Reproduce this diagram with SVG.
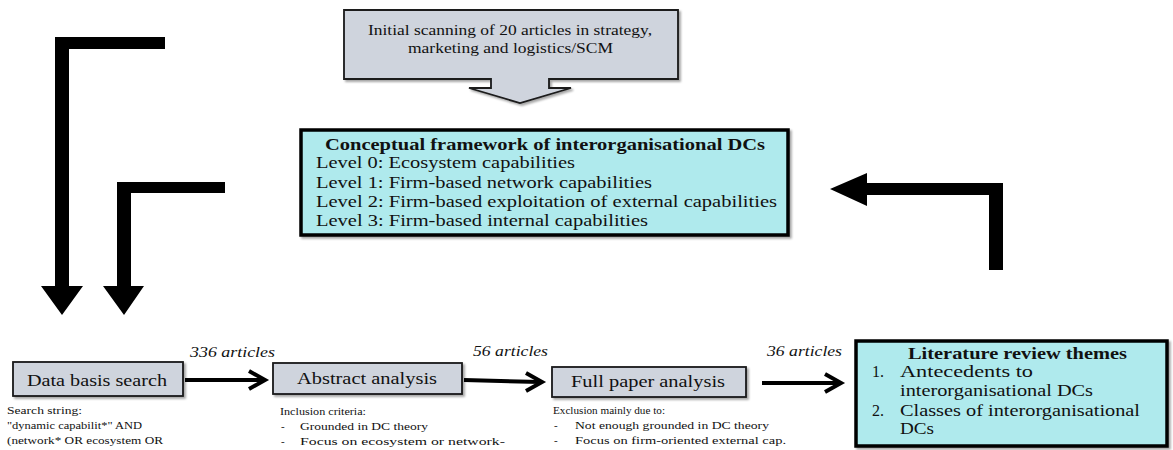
<svg xmlns="http://www.w3.org/2000/svg" width="1173" height="450" viewBox="0 0 1173 450" font-family="'Liberation Serif', 'Times New Roman', Tinos, 'DejaVu Serif', serif">
  <style>
    text { font-family: "Liberation Serif", "Times New Roman", Tinos, "DejaVu Serif", serif; fill: #111; }
    .step { fill: #cfd4dd; stroke: #1a1a1a; stroke-width: 1.8; }
    .theme { fill: #afeaed; stroke: #000; stroke-width: 3.5; }
    .lbl { font-size: 16px; }
    .cnt { font-size: 14.5px; font-style: italic; }
    .note { font-size: 11px; }
    .hd { font-weight: bold; }
    .big { font-size: 16px; }
    .bigarrow { fill: #000; }
    .flow { fill: none; stroke: #000; stroke-width: 4; }
    .head { fill: none; stroke: #000; stroke-width: 4; stroke-linejoin: miter; stroke-linecap: butt; }
  </style>
  <defs>
    <filter id="shadow" x="-5%" y="-5%" width="112%" height="120%">
      <feDropShadow dx="2" dy="2" stdDeviation="1" flood-color="#000" flood-opacity="0.35"/>
    </filter>
  </defs>

  <!-- Initial scanning callout with down arrow -->
  <g id="scanning">
    <path class="step" filter="url(#shadow)" d="M344,10 H678 V79 H549 V88 H571 L520,103 L469,88 H491 V79 H344 Z"/>
    <text x="368" y="35" font-size="14" textLength="284" lengthAdjust="spacingAndGlyphs">Initial scanning of 20 articles in strategy,</text>
    <text x="408" y="53" font-size="14" textLength="205" lengthAdjust="spacingAndGlyphs">marketing and logistics/SCM</text>
  </g>

  <!-- Conceptual framework -->
  <g id="framework">
    <rect class="theme" filter="url(#shadow)" x="301" y="130" width="487" height="105"/>
    <text class="hd" x="325" y="150" font-size="16.5" textLength="440" lengthAdjust="spacingAndGlyphs">Conceptual framework of interorganisational DCs</text>
    <text class="big" x="316" y="168" textLength="259" lengthAdjust="spacingAndGlyphs">Level 0: Ecosystem capabilities</text>
    <text class="big" x="316" y="188" textLength="336" lengthAdjust="spacingAndGlyphs">Level 1: Firm-based network capabilities</text>
    <text class="big" x="316" y="207" textLength="461" lengthAdjust="spacingAndGlyphs">Level 2: Firm-based exploitation of external capabilities</text>
    <text class="big" x="316" y="226" textLength="332" lengthAdjust="spacingAndGlyphs">Level 3: Firm-based internal capabilities</text>
  </g>

  <!-- Data basis search -->
  <g id="data-search">
    <rect class="step" filter="url(#shadow)" x="13" y="362" width="170" height="34"/>
    <text class="lbl" x="27" y="386" textLength="140" lengthAdjust="spacingAndGlyphs">Data basis search</text>
    <text class="note" x="7" y="414" textLength="75" lengthAdjust="spacingAndGlyphs">Search string:</text>
    <text class="note" x="7" y="429" textLength="135" lengthAdjust="spacingAndGlyphs">"dynamic capabilit*" AND</text>
    <text class="note" x="7" y="444" textLength="156" lengthAdjust="spacingAndGlyphs">(network* OR ecosystem OR</text>
  </g>

  <!-- Abstract analysis -->
  <g id="abstract-analysis">
    <rect class="step" filter="url(#shadow)" x="273" y="363" width="189" height="31"/>
    <text class="lbl" x="297" y="384" textLength="140" lengthAdjust="spacingAndGlyphs">Abstract analysis</text>
    <text class="note" x="280" y="415" textLength="86" lengthAdjust="spacingAndGlyphs">Inclusion criteria:</text>
    <text class="note" x="281" y="430">-</text>
    <text class="note" x="300" y="430" textLength="128" lengthAdjust="spacingAndGlyphs">Grounded in DC theory</text>
    <text class="note" x="281" y="445">-</text>
    <text class="note" x="300" y="445" textLength="205" lengthAdjust="spacingAndGlyphs">Focus on ecosystem or network-</text>
    <text class="note" x="300" y="457" textLength="78" lengthAdjust="spacingAndGlyphs">oriented cap.</text>
  </g>

  <!-- Full paper analysis -->
  <g id="full-paper">
    <rect class="step" filter="url(#shadow)" x="552" y="367" width="194" height="30"/>
    <text class="lbl" x="571" y="387" textLength="154" lengthAdjust="spacingAndGlyphs">Full paper analysis</text>
    <text class="note" x="553" y="414" textLength="112" lengthAdjust="spacingAndGlyphs">Exclusion mainly due to:</text>
    <text class="note" x="554" y="429">-</text>
    <text class="note" x="575" y="429" textLength="194" lengthAdjust="spacingAndGlyphs">Not enough grounded in DC theory</text>
    <text class="note" x="554" y="444">-</text>
    <text class="note" x="575" y="444" textLength="211" lengthAdjust="spacingAndGlyphs">Focus on firm-oriented external cap.</text>
  </g>

  <!-- Literature review themes -->
  <g id="themes">
    <rect class="theme" filter="url(#shadow)" x="856" y="341" width="311" height="105"/>
    <text class="hd" x="908" y="359" font-size="16.5" textLength="219" lengthAdjust="spacingAndGlyphs">Literature review themes</text>
    <text class="big" x="872" y="377">1.</text>
    <text class="big" x="900" y="377" textLength="133" lengthAdjust="spacingAndGlyphs">Antecedents to</text>
    <text class="big" x="900" y="396" textLength="193" lengthAdjust="spacingAndGlyphs">interorganisational DCs</text>
    <text class="big" x="872" y="416">2.</text>
    <text class="big" x="900" y="416" textLength="240" lengthAdjust="spacingAndGlyphs">Classes of interorganisational</text>
    <text class="big" x="900" y="434" textLength="34" lengthAdjust="spacingAndGlyphs">DCs</text>
  </g>

  <!-- Connectors -->
  <g id="connectors">
    <!-- feedback arrows -->
    <path class="bigarrow" d="M55,37 H165 V49 H69 V286 H83 L62,315 L41,286 H55 Z"/>
    <path class="bigarrow" d="M117,182 H225 V193 H131 V286 H144 L124,315 L103,286 H117 Z"/>
    <path class="bigarrow" d="M1003,183 V270 H989 V195 H867 V206 L830,189 L867,173 V183 Z"/>

    <!-- process flow arrows -->
    <path class="flow" d="M185,380 H263"/>
    <path class="head" d="M249,371 L265,380 L249,389"/>
    <text class="cnt" x="190" y="357" textLength="85" lengthAdjust="spacingAndGlyphs">336 articles</text>

    <path class="flow" d="M464,380 L540,382"/>
    <path class="head" d="M526,373 L542,382 L526,391"/>
    <text class="cnt" x="473" y="356" textLength="75" lengthAdjust="spacingAndGlyphs">56 articles</text>

    <path class="flow" d="M762,383 H839"/>
    <path class="head" d="M825,374 L841,383 L825,392"/>
    <text class="cnt" x="767" y="356" textLength="75" lengthAdjust="spacingAndGlyphs">36 articles</text>
  </g>
</svg>
